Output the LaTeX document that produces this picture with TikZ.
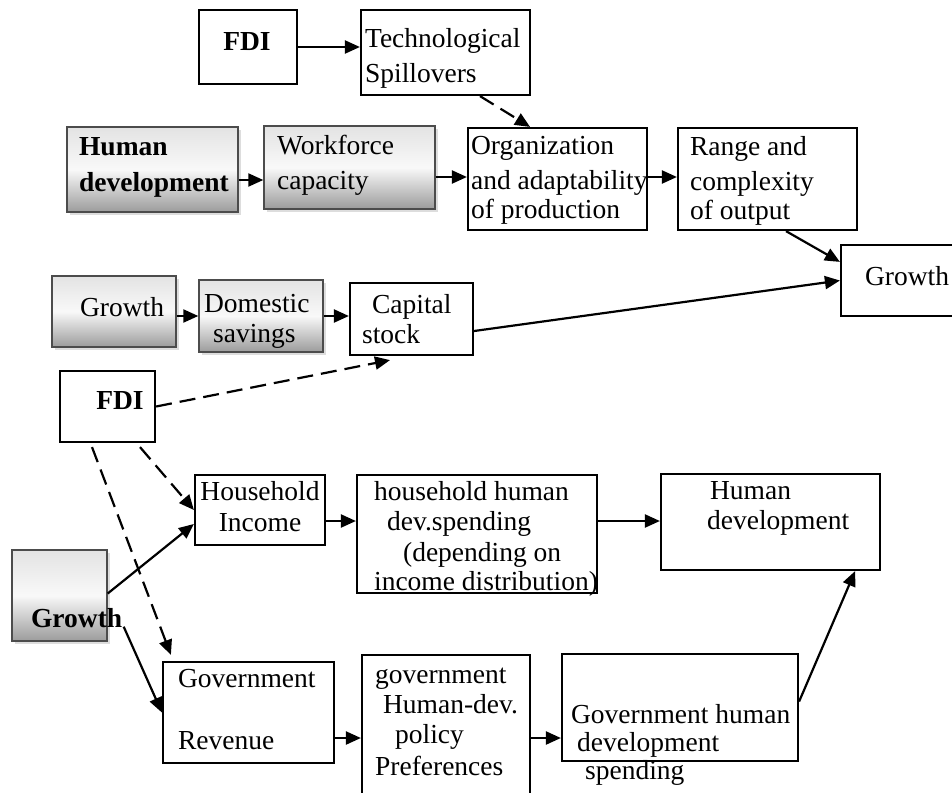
\documentclass[tikz,border=0pt]{standalone}
\usepackage{fontspec}
\setmainfont{Liberation Serif}
\usetikzlibrary{arrows.meta,shadows}

\begin{document}
\begin{tikzpicture}[x=1pt,y=-1pt,font=\fontsize{27.5}{32}\selectfont,
  >={Triangle[length=15pt,width=13pt]},line width=2.2pt,
  box/.style={draw,line width=2.2pt,fill=white,inner sep=0pt},
  shd/.style={draw=gray!60!black,line width=1.4pt,inner sep=0pt,top color=gray!22,bottom color=gray!78,middle color=gray!5,
    drop shadow={shadow xshift=3pt,shadow yshift=-3pt,fill=gray!45,opacity=.6}},
  txt/.style={inner sep=0pt,align=left,anchor=north west,execute at begin node=\strut},
  bld/.style={font=\fontsize{27.5}{32}\selectfont\bfseries},
  dsh/.style={dash pattern=on 16pt off 8pt}]
  \useasboundingbox (0,0) rectangle (952,792);
  \clip (0,0) rectangle (952,792);
  % boxes
  \node[box,minimum width=98pt,minimum height=74pt] (fdia) at (248,47) {};
  \node[box,minimum width=169pt,minimum height=85pt] (tech) at (445.5,52.5) {};
  \node[shd,minimum width=171pt,minimum height=85pt] (humdev) at (152.5,169.5) {};
  \node[shd,minimum width=171pt,minimum height=83pt] (wkf) at (349.5,167.5) {};
  \node[box,minimum width=179pt,minimum height=102pt] (org) at (557.5,179) {};
  \node[box,minimum width=179pt,minimum height=102pt] (rng) at (767.5,179) {};
  \node[box,minimum width=149pt,minimum height=71pt] (grw) at (915.5,280.5) {};
  \node[shd,minimum width=124pt,minimum height=71pt] (grwa) at (114,311.5) {};
  \node[shd,minimum width=124pt,minimum height=72pt] (dsav) at (261,316) {};
  \node[box,minimum width=123pt,minimum height=72pt] (kap) at (411.5,319) {};
  \node[box,minimum width=95pt,minimum height=71pt] (fdib) at (107.5,406.5) {};
  \node[box,minimum width=130pt,minimum height=70pt] (hinc) at (260,510) {};
  \node[box,minimum width=240pt,minimum height=118pt] (hsp) at (477,534) {};
  \node[box,minimum width=219pt,minimum height=96pt] (hdev) at (770.5,522) {};
  \node[shd,minimum width=95pt,minimum height=91pt] (grwb) at (59.5,595.5) {};
  \node[box,minimum width=171pt,minimum height=101pt] (grev) at (248.5,712.5) {};
  \node[box,minimum width=168pt,minimum height=166pt] (gpref) at (446,738) {};
  \node[box,minimum width=236pt,minimum height=107pt] (gsp) at (680,707.5) {};
  % texts
  \node[txt,bld,anchor=north] (fdial) at (247,27) {FDI};
  \node[txt] (techl) at (364,27) {Technological\\[3pt]Spillovers};
  \node[txt,bld] (humdevl) at (78,136) {Human\\[4pt]development};
  \node[txt] (wkfl) at (276,134) {Workforce\\[3pt]capacity};
  \node[txt] (orgl) at (470,135) {Organization\\[3pt]and adaptability\\[-3pt]of production};
  \node[txt] (rngl) at (689,135) {Range and\\[3pt]complexity\\[-3pt]of output};
  \node[txt] (grwl) at (864,262) {Growth};
  \node[txt] (grwal) at (79,293) {Growth};
  \node[txt] (dsavl) at (203,293) {Domestic\\[-2pt]\hspace*{9pt}savings};
  \node[txt] (kapl) at (361,293) {\hspace*{10pt}Capital\\[-2pt]stock};
  \node[txt,bld,anchor=north] (fdibl) at (120,386) {FDI};
  \node[txt,align=center,anchor=north] (hincl) at (260,480) {Household\\[-1pt]Income};
  \node[txt] (hspl) at (373,480) {household human\\[-2pt]\hspace*{13pt}dev.spending\\[-1pt]\hspace*{29pt}(depending on\\[-3pt]income distribution)};
  \node[txt] (hdevl) at (706,480) {\hspace*{3pt}Human\\[-2pt]development};
  \node[txt,bld] (grwbl) at (30,604) {Growth};
  \node[txt] (grevl) at (177,668) {Government\\[30pt]Revenue};
  \node[txt] (gprefl) at (374,667) {government\\[-2pt]\hspace*{8pt}Human-dev.\\[-2pt]\hspace*{20pt}policy\\Preferences};
  \node[txt] (gspl) at (570,703) {Government human\\[-4pt]\hspace*{6pt}development\\[-4pt]\hspace*{14pt}spending};
  % connectors
  \draw[->] (fdia) -- (fdia -| tech.west);
  \draw[->,dsh] ([xshift=34.5pt]tech.south) -- ([xshift=-27.5pt]org.north);
  \draw[->] ([yshift=-10.5pt]humdev.east) -- ([yshift=-10.5pt]humdev.east -| wkf.west);
  \draw[->] ([yshift=-9.5pt]wkf.east) -- ([yshift=-9.5pt]wkf.east -| org.west);
  \draw[->] ([yshift=2pt]org.east) -- ([yshift=2pt]rng.west);
  \draw[->] ([xshift=18.5pt]rng.south) -- ([yshift=-18pt]grw.north west);
  \draw[->] ([yshift=-12pt]kap.east) -- (grw.west);
  \draw[->] ([yshift=-4.5pt]grwa.east) -- ([yshift=-4.5pt]grwa.east -| dsav.west);
  \draw[->] (dsav) -- (dsav -| kap.west);
  \draw[->,dsh] (fdib.east) -- ([xshift=-21.5pt,yshift=-4pt]kap.south);
  \draw[->,dsh] ([xshift=32.5pt,yshift=-4pt]fdib.south) -- (hinc.west);
  \draw[->,dsh] ([xshift=-15.5pt,yshift=-4pt]fdib.south) -- ([xshift=9pt,yshift=6pt]grev.north west);
  \draw[->] ([yshift=2pt]grwb.east) -- ([yshift=-14pt]hinc.west);
  \draw[->] ([xshift=16pt,yshift=15pt]grwb.south east) -- (grev.west);
  \draw[->] ([yshift=-11pt]hinc.east) -- ([yshift=-11pt]hinc.east -| hsp.west);
  \draw[->] ([yshift=13pt]hsp.east) -- ([yshift=13pt]hsp.east -| hdev.west);
  \draw[->] ([yshift=-25.5pt]grev.east) -- (gpref.west);
  \draw[->] (gpref) -- (gpref -| gsp.west);
  \draw[->] ([yshift=6pt]gsp.east) -- ([xshift=-26pt]hdev.south east);
\end{tikzpicture}
\end{document}
